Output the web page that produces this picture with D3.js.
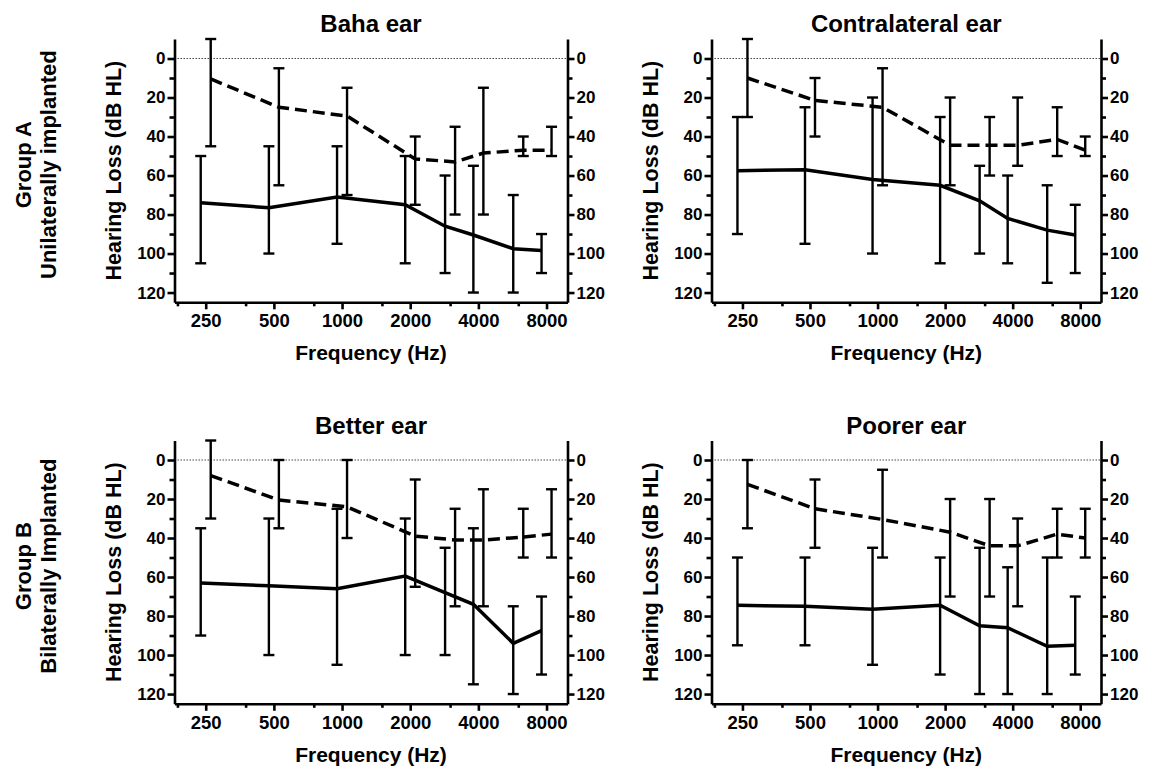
<!DOCTYPE html>
<html>
<head>
<meta charset="utf-8">
<script src="https://cdn.jsdelivr.net/npm/d3@7"></script>
<style>
  body { margin: 0; background: #fff; }
  svg { font-family: "Liberation Sans", Arial, sans-serif; font-weight: bold; }
</style>
</head>
<body>
<svg id="chart"></svg>
<script>
// Frequencies (Hz) and axis ticks
const freqs = [250, 500, 1000, 2000, 3000, 4000, 6000, 8000];
const xMajor = [250, 500, 1000, 2000, 4000, 8000];
const xMinor = [187.5, 375, 750, 1500, 3000, 6000];
const yMajor = [0, 20, 40, 60, 80, 100, 120];
const yMinor = [10, 30, 50, 70, 90, 110];

// Group A - Baha ear
const bahaSolid = [74, 76.5, 71, 75, 86, 90.5, 97.5, 98.5];
const bahaSolidLo = [50, 45, 45, 50, 60, 55, 70, 90];
const bahaSolidHi = [105, 100, 95, 105, 110, 120, 120, 110];
const bahaDashed = [10.5, 25, 29.5, 51.5, 53, 48.5, 47, 47];
const bahaDashedLo = [-10, 5, 15, 40, 35, 15, 40, 35];
const bahaDashedHi = [45, 65, 70, 75, 80, 80, 50, 50];

// Group A - Contralateral ear
const contraSolid = [57.5, 57, 62, 65, 73, 82, 88, 90.5];
const contraSolidLo = [30, 25, 20, 30, 55, 60, 65, 75];
const contraSolidHi = [90, 95, 100, 105, 100, 105, 115, 110];
const contraDashed = [10, 21.5, 25, 44.5, 44.5, 44.5, 41.5, 47];
const contraDashedLo = [-10, 10, 5, 20, 30, 20, 25, 40];
const contraDashedHi = [30, 40, 65, 65, 60, 55, 50, 50];

// Group B - Better ear
const betterSolid = [63, 64.5, 66, 59.5, 68, 74, 94, 87.5];
const betterSolidLo = [35, 30, 25, 30, 45, 35, 75, 70];
const betterSolidHi = [90, 100, 105, 100, 100, 115, 120, 110];
const betterDashed = [8, 20.5, 24, 39, 41, 41, 39.5, 38];
const betterDashedLo = [-10, 0, 0, 10, 25, 15, 25, 15];
const betterDashedHi = [30, 35, 40, 65, 75, 75, 50, 50];

// Group B - Poorer ear
const poorerSolid = [74.5, 75, 76.5, 74.5, 85, 86, 95.5, 95];
const poorerSolidLo = [50, 50, 45, 50, 45, 55, 50, 70];
const poorerSolidHi = [95, 95, 105, 110, 120, 120, 120, 110];
const poorerDashed = [12.5, 25, 30.5, 37, 44, 44, 38, 40];
const poorerDashedLo = [0, 10, 5, 20, 20, 30, 25, 25];
const poorerDashedHi = [35, 45, 50, 70, 70, 75, 50, 50];

const panels = [
    { title: 'Baha ear', col: 0, row: 0,
      solid: [bahaSolid, bahaSolidLo, bahaSolidHi], dashed: [bahaDashed, bahaDashedLo, bahaDashedHi] },
    { title: 'Contralateral ear', col: 1, row: 0,
      solid: [contraSolid, contraSolidLo, contraSolidHi], dashed: [contraDashed, contraDashedLo, contraDashedHi] },
    { title: 'Better ear', col: 0, row: 1,
      solid: [betterSolid, betterSolidLo, betterSolidHi], dashed: [betterDashed, betterDashedLo, betterDashedHi] },
    { title: 'Poorer ear', col: 1, row: 1,
      solid: [poorerSolid, poorerSolidLo, poorerSolidHi], dashed: [poorerDashed, poorerDashedLo, poorerDashedHi] }
];

const groups = [
    { name: 'Group A', sub: 'Unilaterally implanted', row: 0 },
    { name: 'Group B', sub: 'Bilaterally Implanted', row: 1 }
];

// Layout
const width = 1158;
const height = 772;
const cols = [{ left: 174.5, right: 567.5 }, { left: 711.5, right: 1101 }];
const rows = [{ top: 39, bottom: 302.3 }, { top: 440.5, bottom: 703.8 }];
const dodge = 5; // px offset between the two series
const fontFam = '"Liberation Sans", Arial, sans-serif';

const svg = d3.select('#chart')
    .attr('width', width)
    .attr('height', height);

panels.forEach(p => {
    const c = cols[p.col];
    const r = rows[p.row];
    const g = svg.append('g');

    const x = d3.scaleLog().base(2)
        .domain([182, 9900])
        .range([c.left, c.right]);
    const y = d3.scaleLinear()
        .domain([-10, 125])
        .range([r.top, r.bottom]);

    // Dotted zero reference
    g.append('line')
        .attr('x1', c.left).attr('x2', c.right)
        .attr('y1', y(0)).attr('y2', y(0))
        .attr('stroke', '#444')
        .attr('stroke-width', 1)
        .attr('stroke-dasharray', '1.5,1.5');

    // Left axis
    const yl = g.append('g')
        .attr('transform', `translate(${c.left},0)`)
        .call(d3.axisLeft(y).tickValues(yMajor).tickSize(7).tickSizeOuter(0));
    g.append('g')
        .attr('transform', `translate(${c.left},0)`)
        .call(d3.axisLeft(y).tickValues(yMinor).tickSize(5).tickFormat(''))
        .call(a => a.select('.domain').remove());

    // Right axis
    const yr = g.append('g')
        .attr('transform', `translate(${c.right},0)`)
        .call(d3.axisRight(y).tickValues(yMajor).tickSize(7).tickSizeOuter(0));
    g.append('g')
        .attr('transform', `translate(${c.right},0)`)
        .call(d3.axisRight(y).tickValues(yMinor).tickSize(5).tickFormat(''))
        .call(a => a.select('.domain').remove());

    [yl, yr].forEach(a => a.selectAll('text')
        .attr('font-size', '17px')
        .attr('font-family', fontFam)
        .attr('font-weight', 'bold')
        .attr('fill', '#000'));
    yl.selectAll('text').attr('x', -9);
    yr.selectAll('text').attr('x', 9);

    // Bottom axis
    const xa = g.append('g')
        .attr('transform', `translate(0,${r.bottom})`)
        .call(d3.axisBottom(x).tickValues(xMajor).tickSize(7).tickSizeOuter(0).tickFormat(d3.format('d')));
    g.append('g')
        .attr('transform', `translate(0,${r.bottom})`)
        .call(d3.axisBottom(x).tickValues(xMinor).tickSize(4).tickFormat(''))
        .call(a => a.select('.domain').remove());
    xa.selectAll('text')
        .attr('font-size', '18.5px')
        .attr('font-family', fontFam)
        .attr('font-weight', 'bold')
        .attr('fill', '#000')
        .attr('y', 12);

    g.selectAll('.domain, .tick line')
        .attr('stroke', '#000')
        .attr('stroke-width', 2.6);

    // Series: error bars + mean line
    [['solid', null], ['dashed', '12,6']].forEach(([key, dash]) => {
        const [mean, lo, hi] = p[key];
        const off = key === 'solid' ? -dodge : dodge;
        const px = i => x(freqs[i]) + off;

        freqs.forEach((f, i) => {
            g.append('line')
                .attr('x1', px(i)).attr('x2', px(i))
                .attr('y1', y(lo[i])).attr('y2', y(hi[i]))
                .attr('stroke', '#000').attr('stroke-width', 2.4);
            [lo[i], hi[i]].forEach(v => {
                g.append('line')
                    .attr('x1', px(i) - 5.5).attr('x2', px(i) + 5.5)
                    .attr('y1', y(v)).attr('y2', y(v))
                    .attr('stroke', '#000').attr('stroke-width', 2.4);
            });
        });

        const line = d3.line()
            .x((d, i) => px(i))
            .y(d => y(d));
        g.append('path')
            .datum(mean)
            .attr('fill', 'none')
            .attr('stroke', '#000')
            .attr('stroke-width', 3.5)
            .attr('stroke-dasharray', dash)
            .attr('d', line);
    });

    // Title
    g.append('text')
        .attr('x', (c.left + c.right) / 2)
        .attr('y', r.top - 7)
        .attr('text-anchor', 'middle')
        .attr('font-size', '24px')
        .text(p.title);

    // X label
    g.append('text')
        .attr('x', (c.left + c.right) / 2)
        .attr('y', r.bottom + 58)
        .attr('text-anchor', 'middle')
        .attr('font-size', '21px')
        .text('Frequency (Hz)');

    // Y label
    g.append('text')
        .attr('transform', `translate(${c.left - 54},${(r.top + r.bottom) / 2}) rotate(-90)`)
        .attr('text-anchor', 'middle')
        .attr('font-size', '21.5px')
        .text('Hearing Loss (dB HL)');
});

// Group labels
groups.forEach(gr => {
    const r = rows[gr.row];
    const cy = (r.top + r.bottom) / 2 - 6;
    svg.append('text')
        .attr('transform', `translate(31,${cy}) rotate(-90)`)
        .attr('text-anchor', 'middle')
        .attr('font-size', '22px')
        .text(gr.name);
    svg.append('text')
        .attr('transform', `translate(56,${cy}) rotate(-90)`)
        .attr('text-anchor', 'middle')
        .attr('font-size', '22px')
        .text(gr.sub);
});
</script>
</body>
</html>
